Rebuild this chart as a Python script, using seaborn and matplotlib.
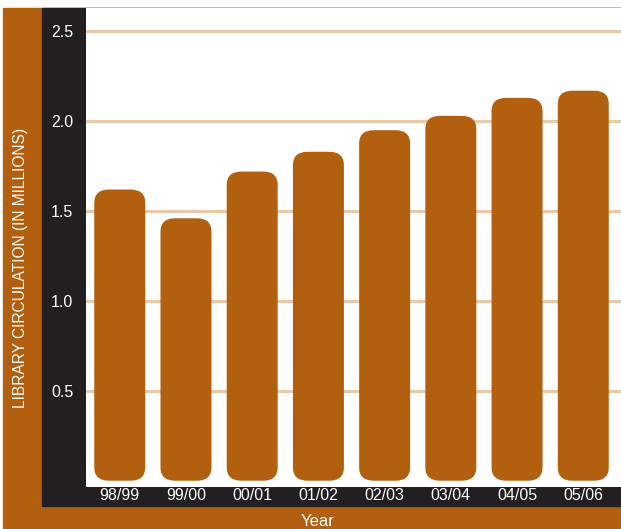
import matplotlib
matplotlib.use("Agg")
import matplotlib.pyplot as plt
import seaborn as sns
import pandas as pd
from matplotlib.patches import Rectangle, FancyBboxPatch

# Data
years = ["98/99", "99/00", "00/01", "01/02", "02/03", "03/04", "04/05", "05/06"]
circulation = [1.62, 1.46, 1.72, 1.83, 1.95, 2.03, 2.13, 2.17]
yticks = [0.5, 1.0, 1.5, 2.0, 2.5]

brown = "#B2600F"
black = "#231F20"
grid_tan = "#EBC8A8"

sns.set_theme(style="white")
plt.rcParams["font.family"] = ["Liberation Sans", "DejaVu Sans"]

W, H = 621, 529
fig = plt.figure(figsize=(W / 100, H / 100), dpi=100)
fig.patch.set_facecolor("white")

def px(x0, y0, x1, y1):
    # pixel box (top-left origin) -> figure fraction
    return (x0 / W, 1 - y1 / H, (x1 - x0) / W, (y1 - y0) / H)

# brown frame and black strips
for (x0, y0, x1, y1), c in [((3, 8, W, H), brown), ((42, 8, W, 506), black)]:
    l, b, w, h = px(x0, y0, x1, y1)
    fig.add_artist(Rectangle((l, b), w, h, transform=fig.transFigure, color=c, zorder=0))

ax = fig.add_axes(px(86, 8, W, 487))
ax.set_facecolor("white")

df = pd.DataFrame({"year": years, "value": circulation})
sns.barplot(data=df, x="year", y="value", color=brown, width=0.77, ax=ax, zorder=3)

# swap the square bars for rounded ones
bottom = 0.0
for p in list(ax.patches):
    x, w, h = p.get_x(), p.get_width(), p.get_height()
    p.remove()
    ax.add_patch(FancyBboxPatch((x, bottom), w, h - bottom,
                                boxstyle="round,pad=0,rounding_size=0.22",
                                mutation_aspect=0.34, facecolor=brown,
                                edgecolor="none", zorder=3))

ax.set_xlim(-0.51, 7.57)
ax.set_ylim(-0.035, 2.63)
ax.set_yticks(yticks)
ax.set_yticklabels([f"{v:.1f}" for v in yticks])
for v in yticks:
    ax.axhline(v, color=grid_tan, lw=2.2, zorder=1)

ax.tick_params(axis="y", colors="white", labelsize=11.5, pad=9, length=0)
ax.tick_params(axis="x", colors="white", labelsize=11.5, pad=1, length=0)
for s in ax.spines.values():
    s.set_visible(False)
ax.set_xlabel("")
ax.set_ylabel("")

fig.text(21 / W, 1 - 268 / H, "LIBRARY CIRCULATION (IN MILLIONS)", rotation=90,
         color="white", fontsize=11.2, ha="center", va="center")
fig.text(318 / W, 1 - 521 / H, "Year", color="white", fontsize=12,
         ha="center", va="center")

fig.savefig("out.png", dpi=100)
